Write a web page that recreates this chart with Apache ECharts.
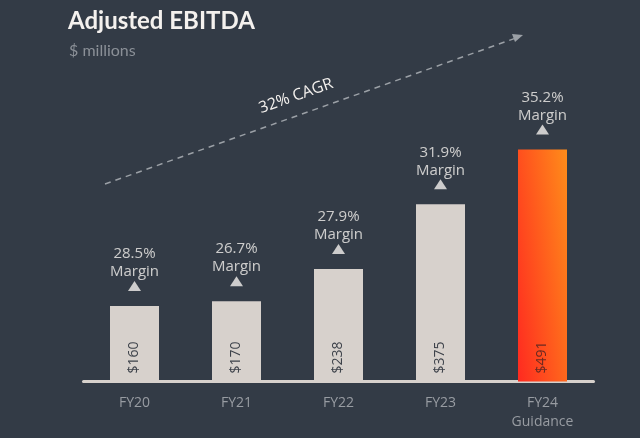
<!DOCTYPE html>
<html><head><meta charset="utf-8">
<script src="https://cdn.jsdelivr.net/npm/echarts@6/dist/echarts.min.js"></script>
<style>html,body{margin:0;padding:0;background:#333b46}#c{width:640px;height:438px}</style>
</head><body><div id="c"></div>
<script>
const categories = ['FY20', 'FY21', 'FY22', 'FY23', 'FY24\nGuidance'];
const ebitda = [160, 170, 238, 375, 491];
const margins = ['28.5%', '26.7%', '27.9%', '31.9%', '35.2%'];
const valueLabels = ['$160', '$170', '$238', '$375', '$491'];

const chart = echarts.init(document.getElementById('c'));
const font = '"Open Sans", Lato, sans-serif';
const titleFont = 'Lato, "Open Sans", sans-serif';
const barColor = '#d7d1cc';
const lastGrad = new echarts.graphic.LinearGradient(0, 1, 1.57, 0.958, [
  {offset: 0, color: '#ff2a20'}, {offset: 1, color: '#ff8c1a'}
]);

chart.setOption({
  backgroundColor: '#333b46',
  animation: false,
  title: [
    {text: 'Adjusted EBITDA', left: 63, top: 4, textStyle: {color: '#f4f1ee', fontFamily: titleFont, fontWeight: 'bold', fontSize: 24}},
    {text: '$ millions', left: 64, top: 38, textStyle: {color: '#8b9097', fontFamily: titleFont, fontWeight: 'normal', fontSize: 16}}
  ],
  grid: {left: 83.5, width: 510, top: 98, height: 283.5, containLabel: false},
  xAxis: {
    type: 'category', data: categories,
    axisLine: {show: true, lineStyle: {color: '#d7d1cc', width: 3}},
    axisTick: {show: false},
    axisLabel: {color: '#989ca2', fontFamily: font, fontSize: 14, margin: 12, lineHeight: 19}
  },
  yAxis: {type: 'value', min: 0, max: 600, show: false, splitLine: {show: false}},
  series: [
    {
      type: 'bar', barWidth: 49, z: 2,
      data: ebitda.map((v, i) => ({
        value: v,
        itemStyle: {color: i === 4 ? lastGrad : barColor},
        label: {color: i === 4 ? '#6a2a22' : '#3d424a'}
      })),
      label: {
        show: true, position: 'insideBottom', rotate: 90, align: 'left', verticalAlign: 'middle', distance: 8,
        fontFamily: font, fontSize: 14,
        formatter: p => valueLabels[p.dataIndex]
      }
    },
    {
      type: 'scatter', symbol: 'triangle', symbolSize: [13, 10], symbolOffset: [0, -20], z: 3,
      data: ebitda,
      itemStyle: {color: '#f4f1ee'},
      label: {
        show: true, position: 'top', distance: 0,
        formatter: p => margins[p.dataIndex] + '\nMargin',
        color: '#f4f1ee', fontFamily: font, fontSize: 15, lineHeight: 18, align: 'center'
      }
    }
  ],
  graphic: [
    {type: 'line', shape: {x1: 105, y1: 184, x2: 516, y2: 38}, style: {stroke: '#9ba0a6', lineWidth: 1.5, lineDash: [6, 5]}},
    {type: 'polygon', shape: {points: [[523, 35], [512, 34], [515, 42]]}, style: {fill: '#9ba0a6'}},
    {type: 'text', x: 296, y: 96, rotation: 19.5 * Math.PI / 180,
      style: {text: '32% CAGR', fill: '#f4f1ee', font: '16px ' + font, align: 'center', verticalAlign: 'middle'}}
  ]
});
</script></body></html>
